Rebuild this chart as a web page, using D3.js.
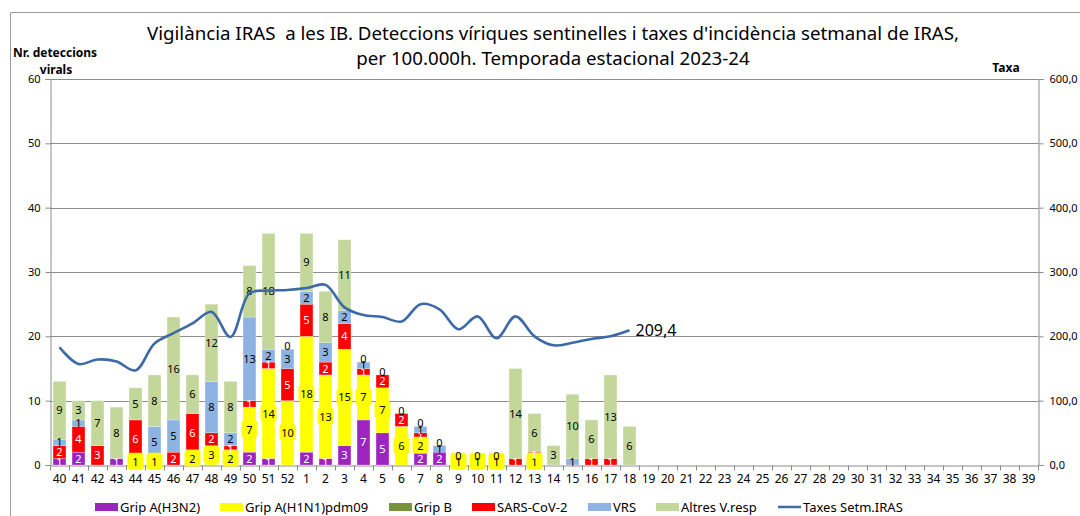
<!DOCTYPE html>
<html><head><meta charset="utf-8">
<script src="https://cdn.jsdelivr.net/npm/d3@7"></script>
<style>
html,body{margin:0;padding:0;background:#fff;}
svg{display:block;font-family:"Noto Sans",sans-serif;}
</style></head><body>
<svg id="c" width="1080" height="516"></svg>
<script>
// ---- data ----
const categories = ["40","41","42","43","44","45","46","47","48","49","50","51","52","1","2","3","4","5","6","7","8","9","10","11","12","13","14","15","16","17","18","19","20","21","22","23","24","25","26","27","28","29","30","31","32","33","34","35","36","37","38","39"];
const dataWeeks = ["40","41","42","43","44","45","46","47","48","49","50","51","52","1","2","3","4","5","6","7","8","9","10","11","12","13","14","15","16","17","18"];
const gripH3N2 = [1,2,0,1,0,0,0,0,0,0,2,1,0,2,1,3,7,5,0,2,2,0,0,0,0,0,0,0,0,0,0];
const gripH1N1 = [0,0,0,0,1,1,0,2,3,2,7,14,10,18,13,15,7,7,6,2,0,1,1,1,0,1,0,0,0,0,0];
const gripB    = [0,0,0,0,0,0,0,0,0,0,0,0,0,0,0,0,0,0,0,0,0,0,0,0,0,0,0,0,0,0,0];
const sarsCov2 = [2,4,3,0,6,0,2,6,2,1,1,1,5,5,2,4,1,2,2,1,0,0,0,0,1,1,0,0,1,1,0];
const vrs      = [1,1,0,0,0,5,5,0,8,2,13,2,3,2,3,2,1,0,0,1,1,0,0,0,0,0,0,1,0,0,0];
const altres   = [9,3,7,8,5,8,16,6,12,8,8,18,0,9,8,11,0,0,0,0,0,0,0,0,14,6,3,10,6,13,6];
const taxes    = [183,157,164,161,147,189,205,220,238,199,267,271,272,275,280,245,233,230,223,250,242,211,231,197,231,200,186,190,196,200,209.4];
const leftTicks = [0,10,20,30,40,50,60];
const rightTicks = [0,100,200,300,400,500,600];
const seriesNames = ["Grip A(H3N2)","Grip A(H1N1)pdm09","Grip B","SARS-CoV-2","VRS","Altres V.resp"];
const seriesColors = ["#9E24C0","#FFFF00","#77933C","#FF0000","#8DB3E2","#C4D79B"];
const labelColors = ["#ffffff","#000000","#000000","#ffffff","#000000","#000000"];
const lineName = "Taxes Setm.IRAS";
const lineColor = "#3D69A8";
const titleLines = ["Vigilància IRAS  a les IB. Deteccions víriques sentinelles i taxes d'incidència setmanal de IRAS,","per 100.000h. Temporada estacional 2023-24"];

// ---- chart ----
const svg = d3.select("#c");
const L = 50, R = 1038, T = 79, B = 465;
const x = d3.scaleBand().domain(categories).range([L, R]).paddingInner(0.32).paddingOuter(0.16);
const yL = d3.scaleLinear().domain([0,60]).range([B,T]);
const yR = d3.scaleLinear().domain([0,600]).range([B,T]);

// frame
svg.append("path").attr("d","M10.5,520 V12.5 H1080").attr("fill","none").attr("stroke","#9a9a9a").attr("stroke-width",1);

// title
svg.append("g").selectAll("text").data(titleLines).join("text")
  .attr("x",553).attr("y",(d,i)=>40+i*24.5).attr("text-anchor","middle")
  .style("white-space","pre")
  .attr("font-size",18.7).attr("fill","#000").text(d=>d);

// axis titles
const at = svg.append("g").attr("font-weight","bold").attr("font-size",12).attr("text-anchor","middle");
at.append("text").attr("x",55).attr("y",57).text("Nr. deteccions");
at.append("text").attr("x",56).attr("y",74).text("virals");
at.append("text").attr("x",1006).attr("y",72).text("Taxa");

// gridlines
svg.append("g").selectAll("line").data(leftTicks.filter(d=>d>0)).join("line")
  .attr("x1",L).attr("x2",R).attr("y1",d=>Math.round(yL(d))+0.5).attr("y2",d=>Math.round(yL(d))+0.5)
  .attr("stroke","#8c8c8c").attr("stroke-width",1);

// left axis
const gl = svg.append("g").attr("transform",`translate(${L+0.5},0)`)
  .call(d3.axisLeft(yL).tickValues(leftTicks).tickSize(5).tickPadding(5).tickFormat(d3.format("d")));
gl.select(".domain").attr("stroke","#8c8c8c");
gl.selectAll(".tick line").attr("stroke","#8c8c8c");
gl.selectAll(".tick text").attr("font-size",11).attr("font-family","'Noto Sans',sans-serif").attr("fill","#000");

// right axis
const gr = svg.append("g").attr("transform",`translate(${R+0.5},0)`)
  .call(d3.axisRight(yR).tickValues(rightTicks).tickSize(5).tickPadding(6).tickFormat(d=>d3.format(".1f")(d).replace(".",",")));
gr.select(".domain").attr("stroke","#8c8c8c");
gr.selectAll(".tick line").attr("stroke","#8c8c8c");
gr.selectAll(".tick text").attr("font-size",11).attr("font-family","'Noto Sans',sans-serif").attr("fill","#000");

// bottom axis
const gb = svg.append("g").attr("transform",`translate(0,${B+0.5})`)
  .call(d3.axisBottom(x).tickSize(0).tickPadding(9));
gb.select(".domain").attr("stroke","#8c8c8c");
gb.selectAll(".tick text").attr("font-size",12).attr("font-family","'Noto Sans',sans-serif").attr("fill","#000");
const step = x.step();
gb.append("g").selectAll("line").data(categories.concat(["_end"])).join("line")
  .attr("x1",(d,i)=>Math.round(L+i*step)+0.5).attr("x2",(d,i)=>Math.round(L+i*step)+0.5)
  .attr("y1",0).attr("y2",5).attr("stroke","#8c8c8c");

// stacked bars
const series = [gripH3N2,gripH1N1,gripB,sarsCov2,vrs,altres];
const rows = dataWeeks.map((w,i)=>{const r={week:w}; series.forEach((s,k)=>r["s"+k]=s[i]); return r;});
const keys = series.map((s,k)=>"s"+k);
const stacked = d3.stack().keys(keys)(rows);
const barsG = svg.append("g");
stacked.forEach((layer,k)=>{
  barsG.append("g").attr("fill",seriesColors[k]).selectAll("rect").data(layer).join("rect")
    .attr("x",d=>x(d.data.week)).attr("width",x.bandwidth())
    .attr("y",d=>yL(d[1])).attr("height",d=>yL(d[0])-yL(d[1]))
    .attr("stroke","#ffffff").attr("stroke-opacity",0.5).attr("stroke-width",0.5);
});

// data labels
const labG = svg.append("g").attr("font-size",11).attr("text-anchor","middle");
stacked.forEach((layer,k)=>{
  layer.forEach((d,i)=>{
    const v = d[1]-d[0];
    const total = series.reduce((a,s)=>a+s[i],0);
    const show = v>0 || (k===5 && total>0);
    if(!show) return;
    const cx = x(d.data.week)+x.bandwidth()/2;
    const cy = (yL(d[0])+yL(d[1]))/2 - (v===0 ? 3 : 0);
    if(k===1){
      labG.append("rect").attr("x",cx-8).attr("y",cy-9).attr("width",16).attr("height",17)
        .attr("rx",3).attr("fill",seriesColors[1]);
    }
    labG.append("text").attr("x",cx).attr("y",cy+4).attr("fill",labelColors[k]).text(v);
  });
});

// line
const line = d3.line().x((d,i)=>x(dataWeeks[i])+x.bandwidth()/2).y(d=>yR(d)).curve(d3.curveCatmullRom.alpha(0.5));
svg.append("path").datum(taxes).attr("d",line).attr("fill","none").attr("stroke",lineColor).attr("stroke-width",2.6);
const lastI = taxes.length-1;
svg.append("text").attr("x",x(dataWeeks[lastI])+x.bandwidth()/2+6).attr("y",yR(taxes[lastI])+6)
  .attr("font-size",16).text(d3.format(".1f")(taxes[lastI]).replace(".",","));

// legend
const legX = [95,220,389,472,588,656];
const lg = svg.append("g").attr("font-size",13);
seriesNames.forEach((n,k)=>{
  lg.append("rect").attr("x",legX[k]).attr("y",503).attr("width",23).attr("height",8).attr("fill",seriesColors[k]);
  lg.append("text").attr("x",legX[k]+25).attr("y",512).text(n);
});
lg.append("line").attr("x1",778).attr("x2",801).attr("y1",507).attr("y2",507).attr("stroke",lineColor).attr("stroke-width",2.5);
lg.append("text").attr("x",803).attr("y",512).text(lineName);
</script>
</body></html>
